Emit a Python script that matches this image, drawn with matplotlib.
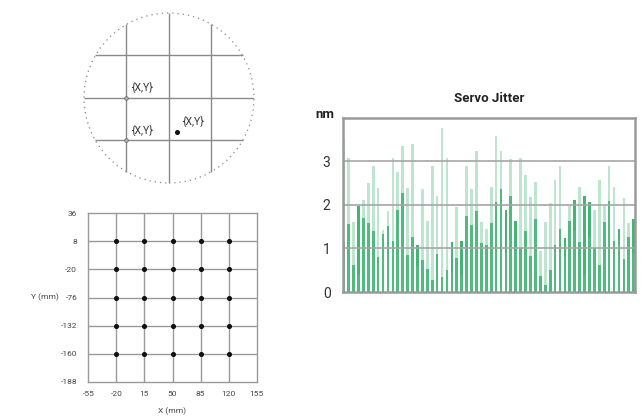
import numpy as np
import matplotlib
matplotlib.use("Agg")
import matplotlib.pyplot as plt
from matplotlib.patches import Circle

plt.rcParams['font.family'] = ['Roboto', 'DejaVu Sans']

# ---------------- data ----------------
jitter_dark = [1.15, 1.56, 0.63, 1.98, 1.70, 1.59, 1.39, 0.80, 1.34, 1.51,
               1.16, 1.89, 2.27, 0.85, 1.26, 1.07, 0.73, 0.52, 0.27, 0.88,
               0.34, 0.51, 1.15, 0.79, 1.16, 1.74, 1.53, 1.85, 1.13, 1.07,
               1.59, 2.06, 2.37, 1.87, 2.19, 1.63, 1.02, 1.40, 0.82, 1.68,
               0.36, 0.15, 0.51, 1.07, 1.45, 1.24, 1.63, 2.10, 1.15, 2.19,
               2.06, 1.02, 0.63, 1.60, 2.08, 1.16, 1.45, 0.76, 1.27, 1.67]
jitter_light = [3.51, 3.08, 1.60, 0.40, 2.12, 2.50, 2.89, 2.39, 1.43, 1.85,
                3.08, 2.75, 3.34, 2.39, 3.40, 0.60, 2.35, 1.62, 2.89, 2.19,
                3.76, 3.08, 0.45, 1.95, 0.40, 2.89, 2.35, 3.23, 1.60, 1.44,
                2.40, 3.57, 3.23, 0.90, 3.04, 0.95, 3.08, 2.68, 2.18, 2.52,
                0.95, 1.61, 2.05, 2.57, 2.89, 0.80, 1.96, 1.40, 2.40, 0.40,
                1.27, 1.89, 2.57, 1.98, 2.89, 2.40, 1.21, 2.16, 1.59, 0.90]
jitter_ticks = [0, 1, 2, 3]

grid_x_vals = [-20, 15, 50, 85, 120]
grid_y_vals = [8, -20, -76, -132, -160]
x_tick_vals = [-55, -20, 15, 50, 85, 120, 155]
y_tick_labels = ['36', '8', '-20', '-76', '-132', '-160', '-188']

circle_lines = [-0.5, 0.0, 0.5]
circle_points_x = [-0.5, -0.5]
circle_points_y = [0.0, -0.5]
circle_dot = (0.1, -0.4)
point_label = '{X,Y}'

# ---------------- figure ----------------
W, H = 642, 417
fig = plt.figure(figsize=(W / 100, H / 100), dpi=100)
fig.patch.set_facecolor('white')

def px_axes(x0, y0, x1, y1):
    return fig.add_axes([x0 / W, 1 - y1 / H, (x1 - x0) / W, (y1 - y0) / H])

# ---------- Servo jitter bars ----------
ax = px_axes(343, 117.5, 635, 292)
idx = np.arange(len(jitter_dark))
ax.bar(idx, jitter_dark, width=0.55, color='#40b672', zorder=2, linewidth=0)
ax.bar(idx, jitter_light, width=0.55, color='#64c391', alpha=0.42, zorder=2.5, linewidth=0)
ax.set_xlim(-0.15, len(idx) - 1 + 0.26)
ax.set_ylim(0, 4)
for t in jitter_ticks[1:]:
    ax.axhline(t, color='#a6a6a6', lw=1.2, zorder=3)
ax.set_yticks(jitter_ticks)
ax.set_yticklabels([str(t) for t in jitter_ticks], fontsize=10, color='#333333')
ax.tick_params(axis='y', length=0, pad=9)
ax.set_xticks([])
for s in ax.spines.values():
    s.set_color('#9a9a9a')
    s.set_linewidth(1.8)
    s.set_zorder(4)
ax.set_title('Servo Jitter', fontsize=9.5, fontweight='bold', color='#222222', pad=11)
fig.text(325 / W, 1 - 114 / H, 'nm', fontsize=9.5, fontweight='bold', color='#222222',
         ha='center', va='center')

# ---------- circle ----------
R = 85.0
cx, cy = 169, 98
axc = px_axes(cx - R, cy - R, cx + R, cy + R)
axc.set_xlim(-1, 1)
axc.set_ylim(-1, 1)
axc.set_axis_off()
circ = Circle((0, 0), 1, fill=False, ls=(0, (1, 3.2)), lw=0.9, ec='#888888', clip_on=False)
axc.add_patch(circ)
for v in circle_lines:
    h = np.sqrt(1 - v ** 2)
    axc.plot([v, v], [-h, h], color='#8a8a8a', lw=1.0, solid_capstyle='butt')
    axc.plot([-h, h], [v, v], color='#8a8a8a', lw=1.0, solid_capstyle='butt')
axc.plot(circle_points_x, circle_points_y, 'o', ms=2.6, mfc='#bbbbbb', mec='#666666', mew=0.6, ls='none')
axc.plot([circle_dot[0]], [circle_dot[1]], 'o', ms=2.6, color='#111111')
for px, py in zip(circle_points_x, circle_points_y):
    axc.annotate(point_label, (px, py), xytext=(3.5, 3.5), textcoords='offset points',
                 fontsize=7.5, color='#333333', ha='left', va='bottom')
axc.annotate(point_label, circle_dot, xytext=(4, 3.5), textcoords='offset points',
             fontsize=7.5, color='#333333', ha='left', va='bottom')

# ---------- grid scatter ----------
ax2 = px_axes(88.3, 213.3, 256.7, 381.7)
ypos = {lab: i for i, lab in enumerate(reversed(y_tick_labels))}
ax2.set_xlim(x_tick_vals[0], x_tick_vals[-1])
ax2.set_ylim(0, len(y_tick_labels) - 1)
for xv in grid_x_vals:
    ax2.axvline(xv, color='#9a9a9a', lw=1.0, zorder=1)
for yv in grid_y_vals:
    ax2.axhline(ypos[str(yv)], color='#9a9a9a', lw=1.0, zorder=1)
gx, gy = np.meshgrid(grid_x_vals, [ypos[str(v)] for v in grid_y_vals])
ax2.scatter(gx.ravel(), gy.ravel(), s=7, color='#111111', zorder=3)
ax2.set_xticks(x_tick_vals)
ax2.set_xticklabels([str(v) for v in x_tick_vals], fontsize=6, color='#444444')
ax2.set_yticks([ypos[l] for l in y_tick_labels])
ax2.set_yticklabels(y_tick_labels, fontsize=6, color='#444444')
ax2.tick_params(length=0)
ax2.tick_params(axis='y', pad=8)
ax2.tick_params(axis='x', pad=7)
for s in ax2.spines.values():
    s.set_color('#9a9a9a')
    s.set_linewidth(1.0)
fig.text(45 / W, 1 - 297 / H, 'Y (mm)', fontsize=6, color='#444444', ha='center', va='center')
fig.text(172 / W, 1 - 411 / H, 'X (mm)', fontsize=6, color='#444444', ha='center', va='center')

fig.savefig('out.png', dpi=100)
